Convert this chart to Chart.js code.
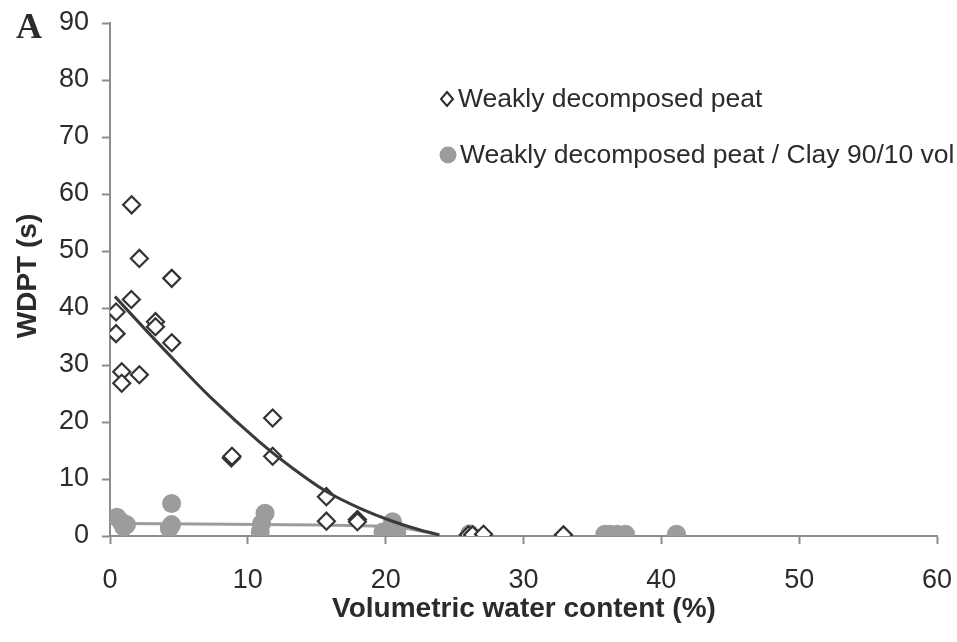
<!DOCTYPE html>
<html>
<head>
<meta charset="utf-8">
<title>WDPT vs volumetric water content</title>
<script src="https://cdn.jsdelivr.net/npm/chart.js@4/dist/chart.umd.min.js"></script>
<style>
  html, body { margin: 0; padding: 0; background: #fff; }
  #wrap { width: 957px; height: 642px; }
</style>
</head>
<body>
<div id="wrap"><canvas id="chart" width="957" height="642"></canvas></div>
<script>
// ---- DATA ----
// weakly decomposed peat: [water content %, WDPT s]
const peatX = [0.44, 0.44, 0.85, 0.85, 1.55, 1.57, 2.13, 2.13, 3.3, 3.3, 4.48, 4.48,
               8.8, 8.85, 11.8, 11.8, 15.7, 15.7, 17.95, 17.95, 26.0, 26.3, 27.1, 32.9];
const peatY = [39.3, 35.5, 28.8, 26.8, 41.5, 58.1, 48.7, 28.3, 37.6, 36.7, 45.2, 33.9,
               13.7, 14.0, 20.7, 14.0, 6.9, 2.6, 2.9, 2.5, 0.2, 0.2, 0.3, 0.2];

// peat / clay 90/10 mix
const clayX = [0.5, 0.8, 1.0, 1.2, 4.3, 4.47, 4.47, 10.9, 11.0, 11.25,
               19.8, 20.3, 20.5, 20.8, 26.1, 35.9, 36.3, 36.8, 37.4, 41.1];
const clayY = [3.3, 2.5, 1.6, 2.0, 1.35, 2.0, 5.7, 0.75, 2.2, 4.0,
               0.7, 0.4, 2.5, 0.7, 0.4, 0.3, 0.3, 0.3, 0.3, 0.3];

// trend lines
const peatTrendX = [0.36, 2.42, 4.84, 7.26, 10.9, 13.3, 15.7, 18.1, 20.6, 22.5, 23.9];
const peatTrendY = [42.0, 36.6, 30.4, 24.4, 16.4, 11.8, 7.8, 4.9, 2.5, 1.05, 0.2];
const clayTrendX = [0.3, 11.0, 20.6, 23.5];
const clayTrendY = [2.2, 2.0, 1.6, 0.4];

const xTicks = [0, 10, 20, 30, 40, 50, 60];
const yTicks = [0, 10, 20, 30, 40, 50, 60, 70, 80, 90];

const legendLabels = ['Weakly decomposed peat', 'Weakly decomposed peat / Clay 90/10 vol'];
const xTitle = 'Volumetric water content (%)';
const yTitle = 'WDPT (s)';
const panelLetter = 'A';

// ---- STYLE ----
const SANS = '"Liberation Sans", Arial, sans-serif';
const INK = '#2b2b2b';
const AXIS = '#8c8c8c';
const GREY = '#9c9c9c';

const pts = (xs, ys) => xs.map((x, i) => ({ x, y: ys[i] }));

// titles, panel letter and in-plot legend
const decorations = {
    id: 'decorations',
    afterDraw(chart) {
        const ctx = chart.ctx;
        ctx.save();
        ctx.fillStyle = INK;

        ctx.font = 'bold 36px "Liberation Serif", "Times New Roman", serif';
        ctx.textAlign = 'left';
        ctx.textBaseline = 'alphabetic';
        ctx.fillText(panelLetter, 16, 38);

        ctx.font = `bold 28px ${SANS}`;
        ctx.textAlign = 'center';
        ctx.textBaseline = 'middle';
        ctx.fillText(xTitle, 524, 609);

        ctx.save();
        ctx.translate(28, 276);
        ctx.rotate(-Math.PI / 2);
        ctx.fillText(yTitle, 0, 0);
        ctx.restore();

        // legend
        ctx.font = `26.5px ${SANS}`;
        ctx.textAlign = 'left';
        ctx.textBaseline = 'middle';
        ctx.strokeStyle = INK;
        ctx.lineWidth = 2;
        ctx.beginPath();
        ctx.moveTo(447, 92); ctx.lineTo(453, 99); ctx.lineTo(447, 106); ctx.lineTo(441, 99);
        ctx.closePath();
        ctx.fillStyle = '#fff';
        ctx.fill();
        ctx.stroke();
        ctx.fillStyle = INK;
        ctx.fillText(legendLabels[0], 458, 100);

        ctx.beginPath();
        ctx.arc(448, 155, 8.5, 0, Math.PI * 2);
        ctx.fillStyle = GREY;
        ctx.fill();
        ctx.fillStyle = INK;
        ctx.fillText(legendLabels[1], 460, 156);
        ctx.restore();
    }
};

const bg = {
    id: 'bg',
    beforeDraw(chart) {
        const ctx = chart.ctx;
        ctx.save();
        ctx.fillStyle = '#fff';
        ctx.fillRect(0, 0, chart.width, chart.height);
        ctx.restore();
    }
};

new Chart(document.getElementById('chart'), {
    type: 'scatter',
    data: {
        datasets: [
            { label: 'peat trend', data: pts(peatTrendX, peatTrendY), showLine: true,
              borderColor: '#3a3a3a', borderWidth: 3, pointRadius: 0,
              cubicInterpolationMode: 'monotone', order: 0 },
            { label: legendLabels[0], data: pts(peatX, peatY), pointStyle: 'rectRot',
              pointRadius: 8.5, borderWidth: 2.2, borderColor: '#333', backgroundColor: '#fff', order: 1 },
            { label: 'clay trend', data: pts(clayTrendX, clayTrendY), showLine: true,
              borderColor: GREY, borderWidth: 3, pointRadius: 0,
              cubicInterpolationMode: 'monotone', order: 2 },
            { label: legendLabels[1], data: pts(clayX, clayY), pointStyle: 'circle',
              pointRadius: 9.5, borderWidth: 0, backgroundColor: GREY, order: 3 },
        ],
    },
    options: {
        responsive: false, devicePixelRatio: 1, animation: false,
        layout: { padding: { top: 23, right: 20, left: 0, bottom: 0 } },
        plugins: { legend: { display: false }, tooltip: { enabled: false } },
        scales: {
            x: {
                type: 'linear', min: 0, max: 60,
                afterBuildTicks: s => { s.ticks = xTicks.map(v => ({ value: v })); },
                afterFit: s => { s.height = 106; s.paddingLeft = 0; s.paddingRight = 0; },
                grid: { drawOnChartArea: false, drawTicks: true, tickLength: 8, color: AXIS, tickWidth: 2 },
                border: { color: AXIS, width: 2 },
                ticks: { color: INK, padding: 20, font: { family: SANS, size: 27 } },
            },
            y: {
                type: 'linear', min: 0, max: 90,
                afterBuildTicks: s => { s.ticks = yTicks.map(v => ({ value: v })); },
                afterFit: s => { s.width = 110; s.paddingTop = 0; s.paddingBottom = 0; },
                grid: { drawOnChartArea: false, drawTicks: true, tickLength: 8, color: AXIS, tickWidth: 2 },
                border: { color: AXIS, width: 2 },
                ticks: { color: INK, padding: 13, font: { family: SANS, size: 27 } },
            },
        },
    },
    plugins: [bg, decorations],
});
</script>
</body>
</html>
